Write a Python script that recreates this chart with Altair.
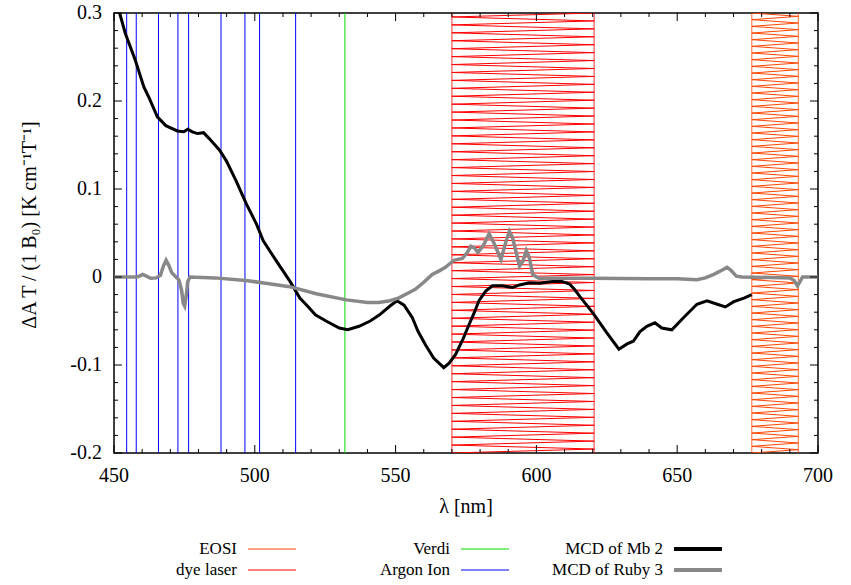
import altair as alt
import pandas as pd

# ---------------- data ----------------
mb_x = [450.0, 452.0, 454.0, 457.6, 460.6, 462.4, 465.4, 468.4, 472.5, 474.8, 476.2, 477.8,
        479.7, 481.8, 483.9, 487.5, 489.9, 493.4, 497.0, 500.6, 503.0, 507.7, 512.5, 516.0,
        518.7, 521.5, 525.3, 530.0, 533.0, 537.0, 541.0, 544.3, 548.0, 550.5, 553.0, 555.9,
        558.0, 560.6, 563.5, 567.1, 569.0, 571.3, 574.0, 576.1, 578.0, 579.6, 582.0, 584.4,
        588.0, 591.5, 594.0, 597.5, 601.0, 605.8, 609.0, 611.8, 613.5, 615.4, 620.1, 624.9,
        629.3, 632.2, 634.4, 636.8, 639.2, 642.1, 644.5, 648.1, 652.3, 657.0, 660.6, 664.2,
        667.1, 670.1, 673.7, 676.5]
mb_y = [0.315, 0.300, 0.277, 0.246, 0.216, 0.204, 0.182, 0.172, 0.166, 0.165, 0.168, 0.165,
        0.163, 0.164, 0.157, 0.144, 0.132, 0.109, 0.083, 0.060, 0.041, 0.018, -0.005, -0.024,
        -0.033, -0.043, -0.050, -0.058, -0.060, -0.056, -0.050, -0.043, -0.033, -0.027, -0.032, -0.046,
        -0.062, -0.077, -0.092, -0.103, -0.098, -0.088, -0.070, -0.054, -0.040, -0.027, -0.016, -0.010,
        -0.010, -0.012, -0.009, -0.0065, -0.007, -0.005, -0.005, -0.008, -0.014, -0.022, -0.041, -0.063,
        -0.082, -0.076, -0.073, -0.062, -0.056, -0.052, -0.058, -0.060, -0.046, -0.031, -0.027, -0.031,
        -0.034, -0.028, -0.024, -0.020]

ruby_x = [450.0, 458.0, 459.0, 460.2, 461.5, 463.0, 465.0, 466.5, 467.5, 468.5, 469.5, 470.5,
          472.0, 473.0, 474.0, 474.6, 475.1, 475.7, 476.2, 477.0, 485.8, 496.8, 503.8, 512.4,
          521.8, 532.5, 540.0, 544.0, 548.0, 551.0, 554.0, 557.0, 560.0, 563.0, 565.5, 567.7,
          570.7, 573.7, 575.5, 576.7, 578.0, 579.2, 581.0, 583.2, 585.0, 587.4, 589.0, 590.4,
          591.5, 594.0, 595.2, 596.4, 597.5, 598.7, 600.0, 601.0, 620.0, 640.0, 650.0, 657.0,
          660.0, 663.0, 666.0, 667.7, 669.0, 671.0, 673.0, 690.0, 691.5, 692.7, 693.8, 694.5, 700.0]
ruby_y = [0.0, 0.0, 0.001, 0.003, 0.001, -0.0015, -0.001, 0.002, 0.012, 0.019, 0.013, 0.005,
          0.0, -0.003, -0.015, -0.030, -0.033, -0.020, -0.005, 0.0, -0.001, -0.004, -0.007, -0.011,
          -0.019, -0.026, -0.029, -0.029, -0.027, -0.024, -0.019, -0.014, -0.006, 0.003, 0.007, 0.011,
          0.019, 0.021, 0.028, 0.035, 0.033, 0.028, 0.035, 0.049, 0.038, 0.020, 0.038, 0.052,
          0.045, 0.0125, 0.018, 0.030, 0.022, 0.003, 0.0, -0.0015, -0.0015, -0.002, -0.002, -0.003,
          -0.001, 0.003, 0.008, 0.011, 0.008, 0.001, 0.0, -0.001, -0.004, -0.010, -0.004, 0.0, 0.0]

argon_lines = [454.5, 457.9, 465.8, 472.7, 476.5, 488.0, 496.5, 501.7, 514.5]
verdi_lines = [532.0]

band_names = ["dye laser", "EOSI"]
band_lo = [570.0, 676.5]
band_hi = [620.5, 693.0]

x_major = [450, 500, 550, 600, 650, 700]
x_labels = ["450", "500", "550", "600", "650", "700"]
x_minor = [460, 470, 480, 490, 510, 520, 530, 540, 560, 570, 580, 590,
           610, 620, 630, 640, 660, 670, 680, 690]
y_major = [-0.2, -0.1, 0.0, 0.1, 0.2, 0.3]
y_labels = ["-0.2", "-0.1", "0", "0.1", "0.2", "0.3"]
y_minor = [-0.18, -0.16, -0.14, -0.12, -0.08, -0.06, -0.04, -0.02, 0.02, 0.04, 0.06, 0.08,
           0.12, 0.14, 0.16, 0.18, 0.22, 0.24, 0.26, 0.28]

legend_labels = ["EOSI", "dye laser", "Verdi", "Argon Ion", "MCD of Mb 2", "MCD of Ruby 3"]

# ---------------- style ----------------
FONT = "Liberation Serif"
W, H = 704, 440
C_EOSI = "#ff4500"
C_DYE = "#ff0000"
C_VERDI = "#00dd00"
C_ARGON = "#0000ff"
C_MB = "#000000"
C_RUBY = "#888888"
band_colors = [C_DYE, C_EOSI]
band_step = [0.0045, 0.0038]

xs = alt.Scale(domain=[450, 700], nice=False, zero=False)
ys = alt.Scale(domain=[-0.2, 0.3], nice=False, zero=False)
NOAX = None

layers = []

# hatched (zig-zag) bands
for name, lo, hi, col, step in zip(band_names, band_lo, band_hi, band_colors, band_step):
    n = int(round(0.5 / step))
    zz = pd.DataFrame({
        "i": list(range(n + 1)),
        "x": [lo if i % 2 == 0 else hi for i in range(n + 1)],
        "y": [-0.2 + i * 0.5 / n for i in range(n + 1)],
    })
    layers.append(alt.Chart(zz).mark_line(color=col, strokeWidth=1, clip=True).encode(
        x=alt.X("x:Q", scale=xs, axis=NOAX),
        y=alt.Y("y:Q", scale=ys, axis=NOAX),
        order="i:Q"))
    edges = pd.DataFrame({"x": [lo, hi]})
    layers.append(alt.Chart(edges).mark_rule(color=col, strokeWidth=1, opacity=0.8).encode(
        x=alt.X("x:Q", scale=xs, axis=NOAX)))

# Verdi and argon lines
layers.append(alt.Chart(pd.DataFrame({"x": verdi_lines})).mark_rule(color=C_VERDI, strokeWidth=1).encode(
    x=alt.X("x:Q", scale=xs, axis=NOAX)))
layers.append(alt.Chart(pd.DataFrame({"x": argon_lines})).mark_rule(color=C_ARGON, strokeWidth=1).encode(
    x=alt.X("x:Q", scale=xs, axis=NOAX)))

# MCD curves
mb = pd.DataFrame({"x": mb_x, "y": mb_y})
ruby = pd.DataFrame({"x": ruby_x, "y": ruby_y})
layers.append(alt.Chart(mb).mark_line(color=C_MB, strokeWidth=3, clip=True).encode(
    x=alt.X("x:Q", scale=xs, axis=NOAX),
    y=alt.Y("y:Q", scale=ys, axis=NOAX)))
layers.append(alt.Chart(ruby).mark_line(color=C_RUBY, strokeWidth=3.5, clip=True).encode(
    x=alt.X("x:Q", scale=xs, axis=NOAX),
    y=alt.Y("y:Q", scale=ys, axis=NOAX)))

# inward ticks on all four sides
def xticks(vals, length):
    d = pd.DataFrame({"v": vals})
    bot = alt.Chart(d).mark_rule(color="black", strokeWidth=1).encode(
        x=alt.X("v:Q", scale=xs, axis=NOAX), y=alt.value(H), y2=alt.value(H - length))
    top = alt.Chart(d).mark_rule(color="black", strokeWidth=1).encode(
        x=alt.X("v:Q", scale=xs, axis=NOAX), y=alt.value(0), y2=alt.value(length))
    return [bot, top]

def yticks(vals, length):
    d = pd.DataFrame({"v": vals})
    left = alt.Chart(d).mark_rule(color="black", strokeWidth=1).encode(
        y=alt.Y("v:Q", scale=ys, axis=NOAX), x=alt.value(0), x2=alt.value(length))
    right = alt.Chart(d).mark_rule(color="black", strokeWidth=1).encode(
        y=alt.Y("v:Q", scale=ys, axis=NOAX), x=alt.value(W), x2=alt.value(W - length))
    return [left, right]

layers += xticks(x_major, 8) + xticks(x_minor, 4) + yticks(y_major, 8) + yticks(y_minor, 4)

# tick labels
xl = pd.DataFrame({"v": x_major, "t": x_labels})
layers.append(alt.Chart(xl).mark_text(font=FONT, fontSize=20, align="center", baseline="middle",
                                      color="black").encode(
    x=alt.X("v:Q", scale=xs, axis=NOAX), y=alt.value(H + 23), text="t:N"))
yl = pd.DataFrame({"v": y_major, "t": y_labels})
layers.append(alt.Chart(yl).mark_text(font=FONT, fontSize=20, align="right", baseline="middle",
                                      color="black").encode(
    y=alt.Y("v:Q", scale=ys, axis=NOAX), x=alt.value(-12), text="t:N"))

# axis titles
one = pd.DataFrame({"t": [0]})
layers.append(alt.Chart(one).mark_text(text="\u03bb [nm]", font=FONT, fontSize=20, align="center",
                                       baseline="alphabetic", color="black").encode(
    x=alt.value(W / 2), y=alt.value(H + 60)))
layers.append(alt.Chart(one).mark_text(text="\u0394A T / (1 B\u2080) [K cm\u207b\u00b9T\u207b\u00b9]",
                                       font=FONT, fontSize=20, angle=270, align="center",
                                       baseline="middle", color="black").encode(
    x=alt.value(-84), y=alt.value(H / 2 - 8)))

# legend (manual, 3 columns x 2 rows)
leg_colors = [C_EOSI, C_DYE, C_VERDI, C_ARGON, C_MB, C_RUBY]
leg_widths = [1.2, 1.2, 1.2, 1.2, 4, 4]
col_x = [123, 336, 549]
row_y = [536, 557]
for k, (lab, col, lw) in enumerate(zip(legend_labels, leg_colors, leg_widths)):
    cx = col_x[k // 2]
    ry = row_y[k % 2]
    layers.append(alt.Chart(one).mark_text(text=lab, font=FONT, fontSize=17, align="right",
                                           baseline="middle", color="black").encode(
        x=alt.value(cx), y=alt.value(ry)))
    layers.append(alt.Chart(one).mark_rule(color=col, strokeWidth=lw).encode(
        x=alt.value(cx + 11), x2=alt.value(cx + 59), y=alt.value(ry)))

chart = alt.layer(*layers).properties(
    width=W, height=H,
    padding={"left": 114, "top": 13, "right": 33, "bottom": 132},
    autosize=alt.AutoSizeParams(type="none"),
    background="white",
).configure_view(stroke="black", strokeWidth=1.5)

chart.save("out.html", embed_options={"renderer": "svg", "actions": False})
